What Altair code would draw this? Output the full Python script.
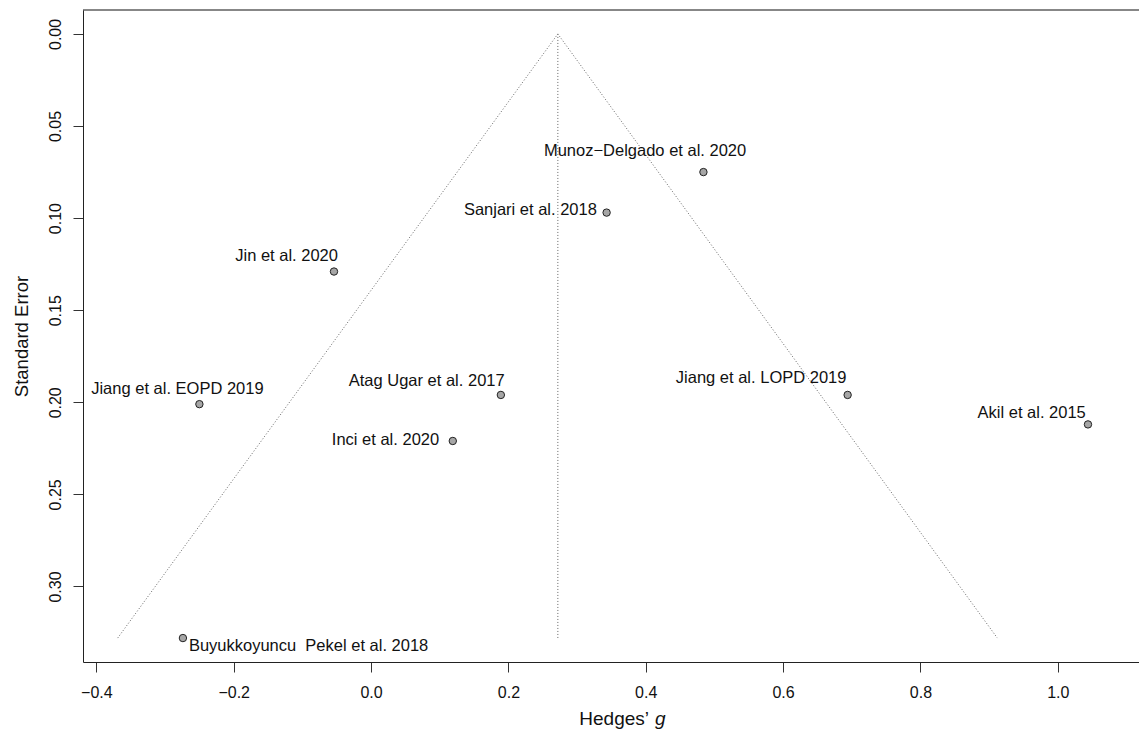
import altair as alt
import pandas as pd

# Study estimates (Hedges' g) and standard errors
studies = ["Munoz\u2212Delgado et al. 2020", "Sanjari et al. 2018", "Jin et al. 2020",
           "Jiang et al. EOPD 2019", "Atag Ugar et al. 2017", "Inci et al. 2020",
           "Jiang et al. LOPD 2019", "Akil et al. 2015", "Buyukkoyuncu\u00a0 Pekel et al. 2018"]
g = [0.484, 0.343, -0.054, -0.250, 0.189, 0.119, 0.694, 1.044, -0.274]
se = [0.075, 0.097, 0.129, 0.201, 0.196, 0.221, 0.196, 0.212, 0.328]
# label anchor (centre of text) in data units
lab_g = [0.399, 0.232, -0.123, -0.282, 0.081, 0.021, 0.568, 0.962, -0.091]
lab_se = [0.0636, 0.0958, 0.1206, 0.1926, 0.1887, 0.2202, 0.187, 0.206, 0.3324]

# funnel (pseudo-confidence region) vertices
funnel_g = [-0.369, 0.272, 0.912]
funnel_se = [0.328, 0.0, 0.328]
center_g = [0.272, 0.272]
center_se = [0.0, 0.328]

x_ticks = [-0.4, -0.2, 0.0, 0.2, 0.4, 0.6, 0.8, 1.0]
y_ticks = [0.00, 0.05, 0.10, 0.15, 0.20, 0.25, 0.30]

FONT = "Liberation Sans"
W, H = 1056, 652

pts = pd.DataFrame({"study": studies, "g": g, "se": se})
labs = pd.DataFrame({"study": studies, "g": lab_g, "se": lab_se})
fun = pd.DataFrame({"g": funnel_g, "se": funnel_se, "o": [0, 1, 2]})
cen = pd.DataFrame({"g": center_g, "se": center_se})

xs = alt.Scale(domain=[-0.4195, 1.1183], nice=False, zero=False)
ys = alt.Scale(domain=[-0.0130, 0.3410], nice=False, zero=False, reverse=True)

xax = alt.Axis(values=x_ticks, format=".1f", title=None, domain=True, domainColor="#222",
               domainWidth=1, grid=False,
               tickSize=10, tickColor="#333", labelFontSize=16, labelFont=FONT,
               labelColor="#111", labelPadding=12, labelFlush=False)
yax = alt.Axis(values=y_ticks, format=".2f", title="Standard Error", domain=True,
               domainColor="#222", domainWidth=1, grid=False,
               tickSize=10, tickColor="#333", labelFontSize=16, labelFont=FONT,
               labelColor="#111", labelAngle=270, labelAlign="center",
               labelBaseline="alphabetic", labelPadding=13, labelFlush=False,
               titleFont=FONT, titleFontSize=18.5, titleFontWeight="normal", titleColor="#111",
               titleAngle=270, titleX=-62, titleY=H / 2, titleAlign="center",
               titleBaseline="middle")

funnel = alt.Chart(fun).mark_line(color="#666", strokeDash=[1, 2], strokeWidth=1).encode(
    x=alt.X("g:Q", scale=xs, axis=xax),
    y=alt.Y("se:Q", scale=ys, axis=yax),
    order="o:Q",
)
center = alt.Chart(cen).mark_line(color="#666", strokeDash=[1, 2], strokeWidth=1).encode(
    x=alt.X("g:Q", scale=xs), y=alt.Y("se:Q", scale=ys)
)
top_border = alt.Chart(pd.DataFrame({"a": [0]})).mark_rule(color="#111", strokeWidth=1.2).encode(
    x=alt.value(0), x2=alt.value(W), y=alt.value(0)
)
points = alt.Chart(pts).mark_point(
    shape="circle", filled=True, fill="#a6a6a6", stroke="#222", strokeWidth=1, size=55, opacity=1
).encode(x=alt.X("g:Q", scale=xs), y=alt.Y("se:Q", scale=ys))
labels = alt.Chart(labs).mark_text(
    font=FONT, fontSize=16.5, color="#111", align="center", baseline="middle"
).encode(x=alt.X("g:Q", scale=xs), y=alt.Y("se:Q", scale=ys), text="study:N")

t1 = alt.Chart(pd.DataFrame({"t": ["Hedges\u2019"]})).mark_text(
    font=FONT, fontSize=19, color="#111", align="right", baseline="middle"
).encode(x=alt.value(649 - 83), y=alt.value(719 - 10), text="t:N")
t2 = alt.Chart(pd.DataFrame({"t": ["g"]})).mark_text(
    font=FONT, fontSize=19, fontStyle="italic", color="#111", align="left", baseline="middle"
).encode(x=alt.value(655 - 83), y=alt.value(719 - 10), text="t:N")

chart = alt.layer(funnel, center, top_border, points, labels, t1, t2).properties(
    width=W, height=H,
    autosize=alt.AutoSizeParams(type="none"),
    padding={"left": 83, "top": 10, "right": 0, "bottom": 71},
    background="white",
).configure_view(strokeWidth=0)

chart.save("out.html", embed_options={"renderer": "svg", "actions": False})
